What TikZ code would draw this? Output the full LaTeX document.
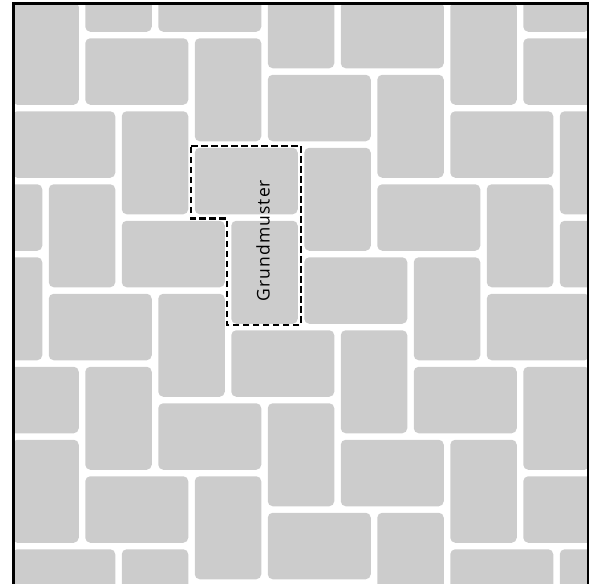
\documentclass[tikz,border=0pt]{standalone}
\usepackage{fontspec}
\newfontfamily\labelfont[LetterSpace=6]{Open Sans}
\definecolor{tilegray}{RGB}{204,204,204}
\begin{document}
\begin{tikzpicture}[x=1pt,y=-1pt]
\tikzset{
  tile/.style={fill=tilegray, rounded corners=5pt},
  frameline/.style={line width=2.4pt, line join=miter},
  gmline/.style={line width=2.3pt, dash pattern=on 6.5pt off 3.5pt, line join=miter},
  gmlabel/.style={rotate=90, inner sep=0pt, font=\labelfont\fontsize{17.5}{20}\selectfont}
}
\useasboundingbox (0,0) rectangle (595,584);
\begin{scope}
\clip (13.5,3.5) rectangle (588,600);
\foreach \i in {-3,...,5}{
  \foreach \j in {-6,...,5}{
    \pgfmathsetmacro\hx{191.5+36.5*(3*\i+2*\j)+3.25}
    \pgfmathsetmacro\hy{144.5+36.5*(3*\i-2*\j)+3.25}
    \fill[tile] (\hx,\hy) rectangle +(103,66.5);
    \fill[tile] ({\hx+36.5},{\hy+73}) rectangle +(66.5,103);
  }
}
\end{scope}
\draw[frameline] (13.5,600) -- (13.5,3.5) -- (588,3.5) -- (588,600);
\draw[gmline] (191,145.7) -- (300.7,145.7) -- (300.7,324.7) -- (226.9,324.7) -- (226.9,218.5) -- (191,218.5) -- cycle;
\node[gmlabel] (label) at (263,240.5) {Grundmuster};
\end{tikzpicture}
\end{document}
